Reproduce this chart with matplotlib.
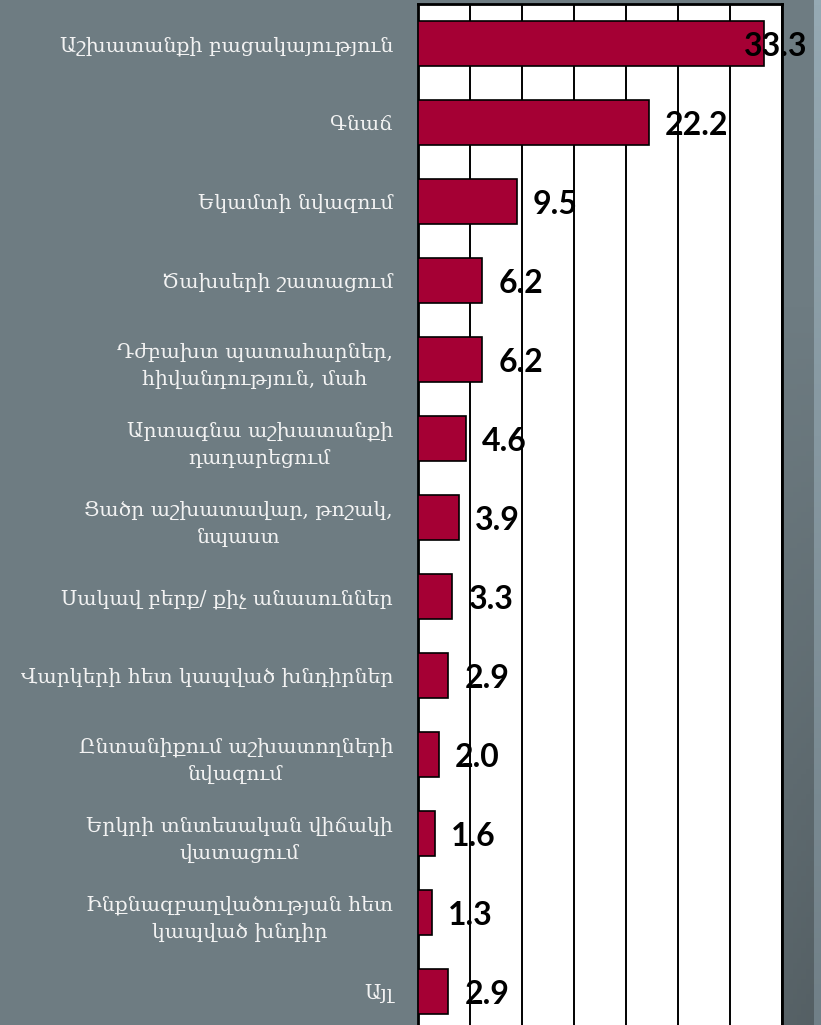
import numpy as np
import matplotlib
matplotlib.use("Agg")
import matplotlib.pyplot as plt

# data (percent)
labels = [
    "Աշխատանքի բացակայություն",
    "Գնաճ",
    "Եկամտի նվազում",
    "Ծախսերի շատացում",
    "Դժբախտ պատահարներ,\nհիվանդություն, մահ",
    "Արտագնա աշխատանքի\nդադարեցում",
    "Ցածր աշխատավար, թոշակ,\nնպաստ",
    "Սակավ բերք/ քիչ անասուններ",
    "Վարկերի հետ կապված խնդիրներ",
    "Ընտանիքում աշխատողների\nնվազում",
    "Երկրի տնտեսական վիճակի\nվատացում",
    "Ինքնազբաղվածության հետ\nկապված խնդիր",
    "Այլ",
]
values = [33.3, 22.2, 9.5, 6.2, 6.2, 4.6, 3.9, 3.3, 2.9, 2.0, 1.6, 1.3, 2.9]
xticks = [0, 5, 10, 15, 20, 25, 30, 35]

W, H = 821, 1025
fig = plt.figure(figsize=(W / 100, H / 100), dpi=100)

# slide background: blue-grey, darker toward bottom right, light strip at right edge
bg = fig.add_axes([0, 0, 1, 1], zorder=-10)
yy, xx = np.mgrid[0:1:200j, 0:1:200j]
base = np.array([110, 124, 130]) / 255
dark = np.clip((xx - 0.6) * 2.0, 0, 1) * np.clip((yy - 0.3) * 1.4, 0, 1)
img = base[None, None, :] * (1 - 0.3 * dark[..., None])
strip = xx > 0.993
img[strip] = np.array([150, 170, 180]) / 255 * (1 - 0.25 * yy[strip][:, None])
bg.imshow(img, extent=[0, 1, 0, 1], aspect="auto", origin="upper")
bg.axis("off")

# plot area in pixels: x 418..782, y 4..1031 (runs past the bottom of the slide)
left, right, top, bottom = 418, 782, 4, 1031
ax = fig.add_axes([left / W, 1 - bottom / H, (right - left) / W, (bottom - top) / H])
ax.set_facecolor("white")

y = np.arange(len(values))
ax.barh(y, values, height=0.57, color="#A50034", edgecolor="black", linewidth=1.2, zorder=3)
ax.set_xlim(0, 35)
ax.set_ylim(len(values) - 0.5, -0.5)
ax.set_xticks(xticks)
ax.xaxis.grid(True, color="black", linewidth=1.4, zorder=1)
ax.tick_params(axis="x", length=0, labelbottom=False)
ax.tick_params(axis="y", length=0, pad=18)
ax.set_yticks(y)
ax.set_yticklabels(labels, family="DejaVu Serif", fontsize=14.7, color="#F2F2F2",
                   ha="right", multialignment="center", linespacing=1.55)
for s in ax.spines.values():
    s.set_color("black")
    s.set_linewidth(2)

# value labels, last one pulled back inside like on the slide
for yi, v in zip(y, values):
    ax.text(min(v + 1.55, 31.3), yi + 0.04, f"{v:.1f}", va="center", ha="left",
            family="Lato", fontweight="bold", fontsize=23, color="black",
            zorder=5, clip_on=False)

fig.savefig("out.png", dpi=100)
